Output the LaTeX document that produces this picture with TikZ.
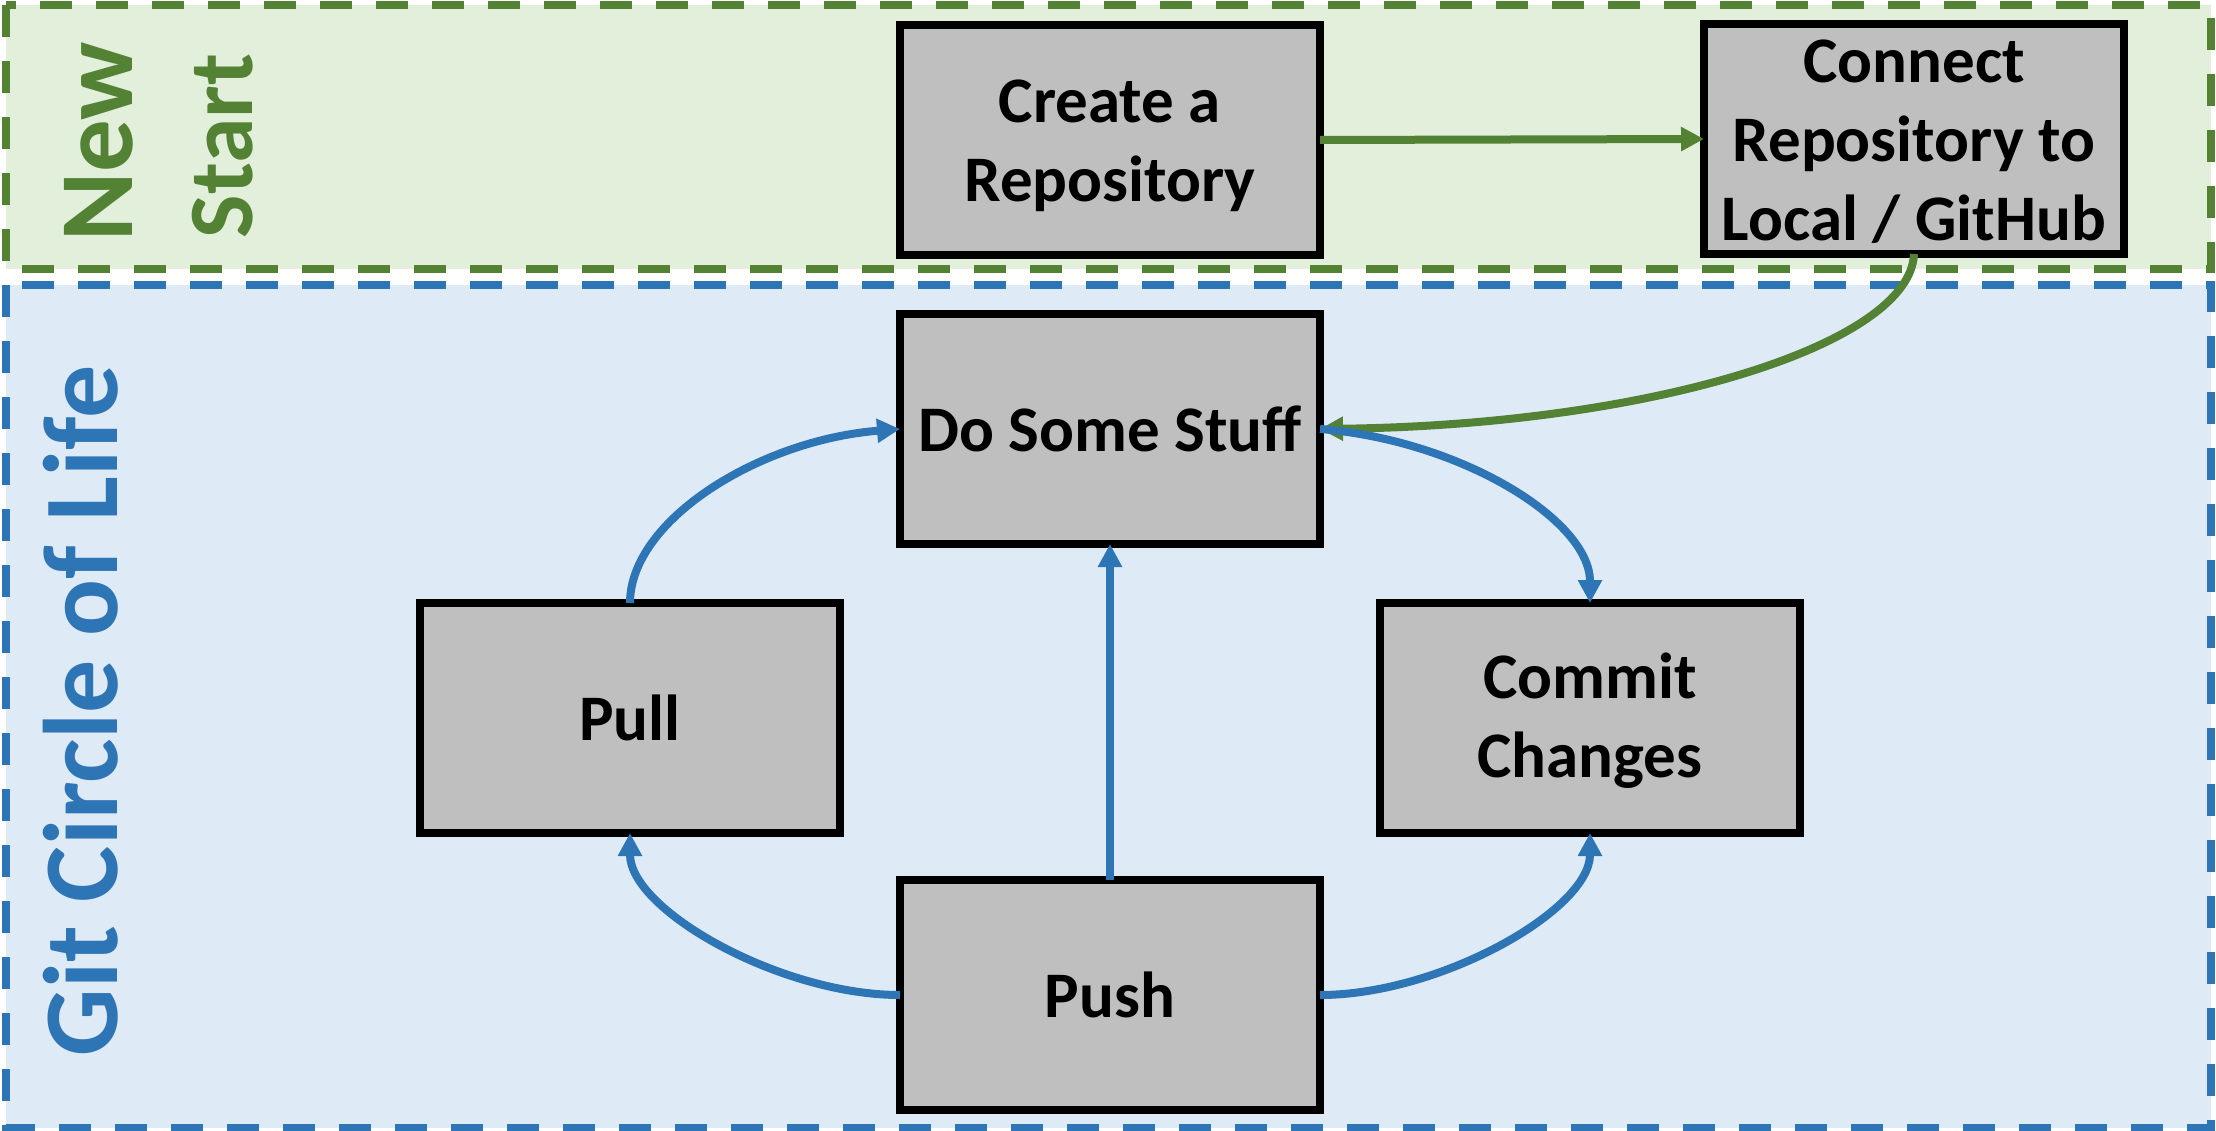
\documentclass[tikz,border=0pt]{standalone}
\usepackage{fontspec}
\setmainfont{Carlito}
\usetikzlibrary{arrows.meta}
\definecolor{grline}{HTML}{548235}
\definecolor{grfill}{HTML}{E2EFDA}
\definecolor{blline}{HTML}{2E75B6}
\definecolor{blfill}{HTML}{DEEBF7}
\definecolor{boxgray}{HTML}{BFBFBF}
% invisible strut that lowers a multi-line box label a little
\newcommand{\toppad}[1]{\rule{0pt}{#1pt}}
\begin{document}
\begin{tikzpicture}[x=1pt,y=-1pt,
  stepbox/.style={draw=black, fill=boxgray, line width=8pt,
    minimum width=420pt, minimum height=230pt, inner sep=0pt, outer sep=0pt,
    align=center, font=\fontsize{65}{79}\selectfont\bfseries},
  region/.style={line width=8pt, dash pattern=on 32pt off 24pt},
  flow/.style={line width=8pt, -{Triangle[length=23pt,width=23pt]}},
  sidelabel/.style={rotate=90, anchor=base, inner sep=0pt}
]
\useasboundingbox (0,0) rectangle (2216,1131);
\fill[white] (0,0) rectangle (2216,1131);

% the two swim lanes
\draw[region, draw=grline, fill=grfill] (6,5) rectangle (2211,269);
\draw[region, draw=blline, fill=blfill] (6,285) rectangle (2211,1128);

% lane titles
\node[sidelabel, text=grline, font=\fontsize{105}{126}\selectfont\bfseries] (newlbl) at (132,142) {New};
\node[sidelabel, text=grline, font=\fontsize{92}{110}\selectfont\bfseries] (startlbl) at (252,146) {Start};
\node[sidelabel, text=blline, font=\fontsize{106}{127}\selectfont\bfseries] (gitlbl) at (117,711) {Git Circle of Life};

% steps
\node[stepbox] (create)  at (1110,140) {\toppad{54}Create a\\Repository};
\node[stepbox] (connect) at (1914,139) {\toppad{48}Connect\\Repository to\\Local / GitHub};
\node[stepbox] (dss)     at (1110,429) {Do Some Stuff};
\node[stepbox] (pull)    at (630,718)  {Pull};
\node[stepbox] (commit)  at (1590,718) {\toppad{52}Commit\\Changes};
\node[stepbox] (push)    at (1110,995) {Push};

% start-up flow
\draw[flow, grline] (create.east) -- (connect.west);
\draw[flow, grline] (connect.south) .. controls +(-4,91) and +(330,-4) .. (dss.east);

% the cycle
\draw[flow, blline] (pull.north) .. controls +(0,-83) and +(-140,11) .. (dss.west);
\draw[flow, blline] (dss.east) .. controls +(140,11) and +(0,-83) .. (commit.north);
\draw[flow, blline] (push.east) .. controls +(120,0) and +(0,77) .. (commit.south);
\draw[flow, blline] (push.west) .. controls +(-120,0) and +(0,77) .. (pull.south);
\draw[flow, blline] (push.north) -- (dss.south);
\end{tikzpicture}
\end{document}
